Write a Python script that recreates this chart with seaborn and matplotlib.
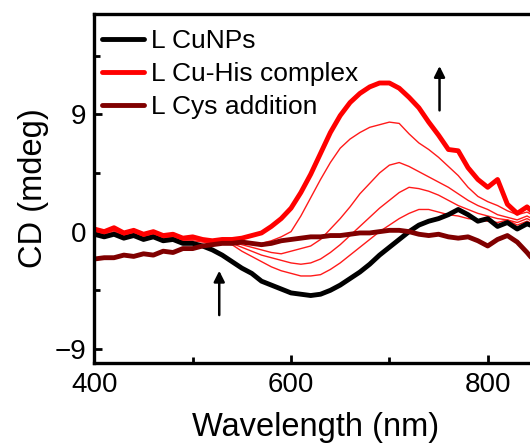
import numpy as np
import pandas as pd
import matplotlib
matplotlib.use("Agg")
import matplotlib.pyplot as plt
import seaborn as sns

# wavelength grid (nm) (mdeg)
wavelength = list(range(400, 851, 10))

cunps = [-0.2, -0.4, -0.2, -0.5, -0.3, -0.6, -0.4, -0.7, -0.6, -0.9,
         -0.9, -1.1, -1.4, -1.8, -2.3, -2.8, -3.2, -3.8, -4.1, -4.4,
         -4.7, -4.8, -4.9, -4.8, -4.5, -4.1, -3.6, -3.1, -2.5, -1.8,
         -1.2, -0.6, 0.0, 0.5, 0.8, 1.0, 1.3, 1.7, 1.3, 0.8,
         1.0, 0.4, 0.7, 0.2, 0.6, 0.3]

cu_his = [0.2, 0.0, 0.3, -0.1, 0.1, -0.2, 0.0, -0.3, -0.2, -0.5,
          -0.4, -0.6, -0.7, -0.6, -0.6, -0.5, -0.3, -0.1, 0.4, 1.0,
          1.8, 3.0, 4.4, 6.0, 7.6, 8.9, 9.9, 10.6, 11.1, 11.4,
          11.4, 11.0, 10.3, 9.5, 8.4, 7.4, 6.3, 6.2, 4.9, 4.0,
          3.4, 4.0, 2.1, 1.4, 1.9, 1.2]

cys_add = [-2.1, -2.0, -2.0, -1.8, -1.9, -1.7, -1.8, -1.5, -1.6, -1.3,
           -1.3, -1.1, -1.0, -0.9, -0.9, -0.8, -0.9, -1.0, -0.9, -0.7,
           -0.6, -0.5, -0.4, -0.4, -0.3, -0.3, -0.2, -0.1, -0.1, 0.0,
           0.1, 0.1, 0.0, -0.2, -0.3, -0.2, -0.4, -0.5, -0.4, -0.7,
           -1.1, -0.6, -0.3, -0.8, -1.6, -2.5]

# intermediate titration spectra (thin red)
step1 = [0.1, -0.1, 0.2, -0.2, 0.0, -0.3, -0.1, -0.4, -0.3, -0.5,
         -0.5, -0.6, -0.7, -0.7, -0.7, -0.8, -0.9, -0.9, -0.7, -0.4,
         0.0, 1.2, 2.6, 4.0, 5.3, 6.4, 7.1, 7.6, 8.0, 8.2,
         8.4, 8.3, 7.5, 6.8, 6.3, 5.7, 5.0, 4.3, 3.4, 2.7,
         2.3, 2.0, 1.6, 1.3, 1.5, 1.1]
step2 = [0.0, -0.2, 0.1, -0.3, -0.1, -0.3, -0.2, -0.5, -0.4, -0.6,
         -0.5, -0.7, -0.7, -0.8, -0.8, -1.0, -1.2, -1.4, -1.6, -1.7,
         -1.5, -1.3, -1.1, -0.6, 0.2, 1.0, 1.9, 2.9, 3.7, 4.5,
         5.1, 5.3, 5.0, 4.6, 4.2, 3.8, 3.4, 2.9, 2.4, 2.0,
         1.7, 1.3, 1.1, 0.9, 1.2, 0.8]
step3 = [0.0, -0.1, 0.1, -0.2, -0.1, -0.4, -0.2, -0.4, -0.4, -0.6,
         -0.6, -0.7, -0.8, -0.8, -0.9, -1.2, -1.5, -1.8, -2.0, -2.2,
         -2.4, -2.5, -2.4, -2.1, -1.6, -1.0, -0.3, 0.4, 1.1, 1.8,
         2.4, 3.0, 3.4, 3.3, 3.1, 2.8, 2.4, 2.0, 1.7, 1.4,
         1.2, 1.0, 0.9, 0.7, 1.0, 0.6]
step4 = [-0.1, -0.3, 0.0, -0.3, -0.2, -0.4, -0.3, -0.5, -0.5, -0.7,
         -0.7, -0.8, -0.9, -0.9, -1.0, -1.5, -1.9, -2.3, -2.7, -3.0,
         -3.2, -3.4, -3.4, -3.3, -2.9, -2.4, -1.8, -1.2, -0.6, 0.0,
         0.5, 1.0, 1.4, 1.7, 1.7, 1.5, 1.3, 1.2, 1.0, 0.9,
         0.8, 0.7, 0.9, 0.5, 0.8, 0.4]
steps = [step1, step2, step3, step4]

# arrows: (x, y_start, y_end)
arrows = [(751, 9.3, 12.7), (527, -6.4, -3.0)]

sns.set_theme(style="ticks")
plt.rcParams['font.family'] = ['Liberation Sans', 'DejaVu Sans']
plt.rcParams['text.color'] = 'black'
plt.rcParams['axes.labelcolor'] = 'black'

fig = plt.figure(figsize=(5.3, 4.48), dpi=100)
ax = fig.add_axes([0.178, 0.189, 0.835, 0.780])

for s in steps:
    sns.lineplot(x=wavelength, y=s, color='#ff1a1a', lw=1.0, ax=ax)
sns.lineplot(x=wavelength, y=cunps, color='black', lw=3.5, ax=ax)
sns.lineplot(x=wavelength, y=cu_his, color='#ff0000', lw=3.5, ax=ax)
sns.lineplot(x=wavelength, y=cys_add, color='#800000', lw=3.5, ax=ax)

for x, y0, y1 in arrows:
    ax.annotate('', xy=(x, y1), xytext=(x, y0),
                arrowprops=dict(arrowstyle='-|>', lw=1.8, color='black',
                                mutation_scale=16, shrinkA=0, shrinkB=0))

ax.set_xlim(400, 850)
ax.set_ylim(-10.1, 16.7)
ax.set_xticks([400, 600, 800])
ax.set_xticks([500, 700], minor=True)
ax.set_yticks([-9, 0, 9])
ax.set_yticks([-4.5, 4.5, 13.5], minor=True)
ax.tick_params(which='both', direction='in', width=2, colors='black',
               labelsize=20, pad=6)
ax.tick_params(which='major', length=6)
ax.tick_params(which='minor', length=4)
for sp in ax.spines.values():
    sp.set_linewidth(2.4)
    sp.set_color('black')

ax.set_xlabel('Wavelength (nm)', fontsize=23.5, labelpad=10)
ax.set_ylabel('CD (mdeg)', fontsize=23.5, labelpad=4)

lines = ax.get_lines()
handles = [lines[4], lines[5], lines[6]]
labels = ['L CuNPs', 'L Cu-His complex', 'L Cys addition']
ax.legend(handles, labels, loc='upper left', bbox_to_anchor=(0.0, 0.98),
          frameon=False, fontsize=19,
          handlelength=1.6, handletextpad=0.25, labelspacing=0.35,
          borderaxespad=0.0, borderpad=0.3, labelcolor='black')

fig.savefig('out.png', dpi=100)
